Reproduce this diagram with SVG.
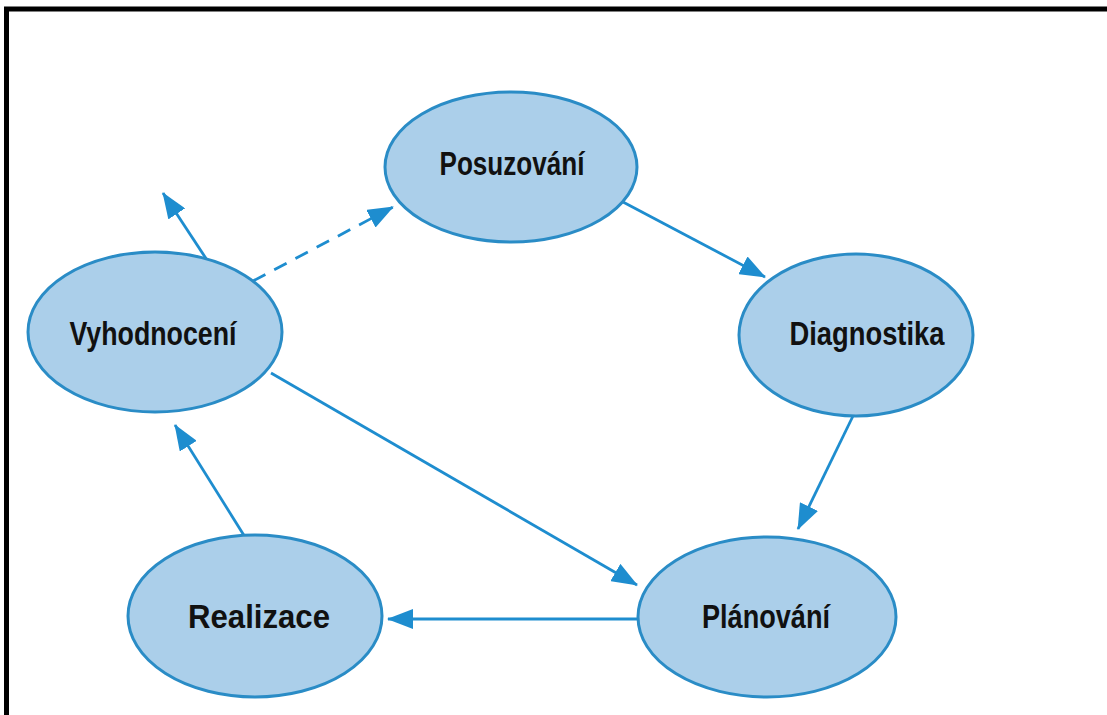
<svg xmlns="http://www.w3.org/2000/svg" width="1107" height="715" viewBox="0 0 1107 715">
<style>
.node ellipse{fill:#abcfea;stroke:#2a8cc6;stroke-width:3}
.node text{font-family:"Liberation Sans",Arial,sans-serif;font-weight:bold;font-size:34px;fill:#111;text-anchor:middle}
.edge{stroke:#1e8dcf;stroke-width:2.8;fill:none}
.dash{stroke-dasharray:14 10}
</style>
<defs>
<marker id="ah" viewBox="0 0 26 20" refX="25" refY="10" markerWidth="26" markerHeight="20" markerUnits="userSpaceOnUse" orient="auto">
<path d="M0,0 L26,10 L0,20 Z" fill="#1e8dcf"/>
</marker>
</defs>
<rect x="0" y="0" width="1107" height="715" fill="#ffffff"/>
<path d="M6.5,715 V9 H1107" fill="none" stroke="#000" stroke-width="5"/>
<g id="connectors">
<line class="edge" x1="623" y1="202" x2="765" y2="277" marker-end="url(#ah)"/>
<line class="edge" x1="853" y1="416" x2="798" y2="529" marker-end="url(#ah)"/>
<line class="edge" x1="271" y1="373" x2="637" y2="585" marker-end="url(#ah)"/>
<line class="edge" x1="638" y1="619" x2="388" y2="619" marker-end="url(#ah)"/>
<line class="edge" x1="245" y1="537" x2="175" y2="425" marker-end="url(#ah)"/>
<line class="edge" x1="207" y1="260" x2="163" y2="193" marker-end="url(#ah)"/>
<line class="edge dash" x1="253" y1="281" x2="393" y2="207" marker-end="url(#ah)"/>
</g>
<g id="posuzovani" class="node">
<ellipse cx="511" cy="167" rx="126" ry="75"/>
<text x="512" y="175" textLength="145" lengthAdjust="spacingAndGlyphs">Posuzování</text>
</g>
<g id="diagnostika" class="node">
<ellipse cx="856" cy="335" rx="117" ry="81"/>
<text x="867" y="345" textLength="155" lengthAdjust="spacingAndGlyphs">Diagnostika</text>
</g>
<g id="planovani" class="node">
<ellipse cx="767" cy="617" rx="129" ry="80"/>
<text x="766" y="628" textLength="128" lengthAdjust="spacingAndGlyphs">Plánování</text>
</g>
<g id="realizace" class="node">
<ellipse cx="255" cy="616" rx="127" ry="81"/>
<text x="259" y="628" textLength="142" lengthAdjust="spacingAndGlyphs">Realizace</text>
</g>
<g id="vyhodnoceni" class="node">
<ellipse cx="155" cy="332" rx="127" ry="80"/>
<text x="153" y="345" textLength="167" lengthAdjust="spacingAndGlyphs">Vyhodnocení</text>
</g>
</svg>
